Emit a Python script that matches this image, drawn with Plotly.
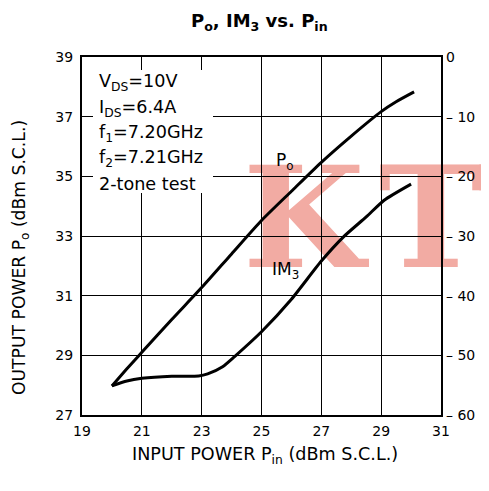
import plotly.graph_objects as go

# ---- data ----
po_pin = [20.0, 20.5, 21.0, 22.0, 23.0, 24.0, 25.0, 26.0, 27.0, 28.0, 29.0, 29.5, 30.1]
po_out = [27.97, 28.55, 29.1, 30.2, 31.27, 32.4, 33.52, 34.5, 35.47, 36.35, 37.17, 37.5, 37.83]

im3_pin = [20.0, 20.5, 21.0, 22.0, 22.9, 23.2, 23.7, 24.1, 25.0, 26.0, 27.0, 27.75, 28.5, 29.1, 30.0]
im3_dbc = [-55.1, -54.3, -53.85, -53.5, -53.45, -53.1, -51.9, -50.2, -46.05, -40.6, -34.2, -30.1, -26.8, -24.0, -21.3]

x_ticks = [19, 21, 23, 25, 27, 29, 31]
y_ticks = [27, 29, 31, 33, 35, 37, 39]
y2_ticks = [0, -10, -20, -30, -40, -50, -60]
y2_labels = ["0", "\u2013 10", "\u2013 20", "\u2013 30", "\u2013 40", "\u2013 50", "\u2013 60"]

conditions = ["V<sub>DS</sub>=10V", "I<sub>DS</sub>=6.4A", "f<sub>1</sub>=7.20GHz",
              "f<sub>2</sub>=7.21GHz", "2-tone test"]

watermark = "K\u200aTT"

FONT = "DejaVu Sans"
OFF = 8  # page body margin in the browser
WIN_W, WIN_H = 489, 491
W, H = WIN_W - OFF, WIN_H - OFF
# plot area in window pixels: x 82..441, y 57..415
ML, MT = 82 - OFF, 57 - OFF
MR, MB = W - (441 - OFF), H - (415 - OFF)
PW, PH = W - ML - MR, H - MT - MB


def px_x(px):
    return (px - OFF - ML) / PW


def px_y(py):
    return (H - MB - (py - OFF)) / PH


fig = go.Figure()
fig.add_trace(go.Scatter(x=po_pin, y=po_out, mode="lines",
                         line=dict(color="black", width=3, shape="spline", smoothing=0.6),
                         showlegend=False, hoverinfo="skip"))
fig.add_trace(go.Scatter(x=im3_pin, y=im3_dbc, mode="lines", yaxis="y2",
                         line=dict(color="black", width=3, shape="spline", smoothing=0.6),
                         showlegend=False, hoverinfo="skip"))

annotations = [
    dict(text="<b>P<sub>o</sub>, IM<sub>3</sub> vs. P<sub>in</sub></b>", xref="paper", yref="paper",
         x=px_x(259), y=px_y(22), xanchor="center", yanchor="middle", showarrow=False,
         font=dict(family=FONT, size=18, color="black")),
    dict(text="INPUT POWER P<sub>in</sub> (dBm S.C.L.)", xref="paper", yref="paper",
         x=px_x(265), y=px_y(455), xanchor="center", yanchor="middle", showarrow=False,
         font=dict(family=FONT, size=17.6, color="black")),
    dict(text="OUTPUT POWER P<sub>o</sub> (dBm S.C.L.)", xref="paper", yref="paper",
         x=px_x(20), y=px_y(258), xanchor="center", yanchor="middle", showarrow=False,
         textangle=-90, font=dict(family=FONT, size=17.2, color="black")),
    dict(text="P<sub>o</sub>", x=25.77, y=35.49, xref="x", yref="y", showarrow=False,
         xanchor="center", yanchor="middle", font=dict(family=FONT, size=17, color="black")),
    dict(text="IM<sub>3</sub>", x=25.8, y=31.86, xref="x", yref="y", showarrow=False,
         xanchor="center", yanchor="middle", font=dict(family=FONT, size=17, color="black")),
]
for t, yc in zip(conditions, [82.7, 108, 133, 158, 184]):
    annotations.append(dict(text=t, xref="paper", yref="paper", x=px_x(97), y=px_y(yc),
                            xanchor="left", yanchor="middle", showarrow=False,
                            font=dict(family=FONT, size=17.6, color="black")))

shapes = [
    # watermark
    dict(type="rect", xref="paper", yref="paper", layer="below",
         x0=px_x(240), x1=px_x(700), y0=px_y(261), y1=px_y(156),
         line=dict(width=0), fillcolor="rgba(0,0,0,0)",
         label=dict(text=watermark, textposition="middle left", padding=0,
                    font=dict(family="DejaVu Serif", size=140, color="#f2aba3", weight="bold"))),
    # white background behind the conditions text
    dict(type="rect", xref="paper", yref="paper", layer="above",
         x0=px_x(93), x1=px_x(213), y0=px_y(193), y1=px_y(70),
         line=dict(width=0), fillcolor="white"),
]

fig.update_layout(
    width=W, height=H,
    margin=dict(l=ML, r=MR, t=MT, b=MB, pad=0, autoexpand=False),
    paper_bgcolor="white", plot_bgcolor="rgba(0,0,0,0)",
    showlegend=False,
    annotations=annotations,
    shapes=shapes,
    xaxis=dict(range=[19, 31], tickvals=x_ticks, showgrid=True, gridcolor="black", gridwidth=1.3,
               showline=True, linecolor="black", linewidth=2, mirror=True, ticks="",
               zeroline=False, ticklabelstandoff=2, automargin=False,
               tickfont=dict(family=FONT, size=14, color="black")),
    yaxis=dict(range=[27, 39], tickvals=y_ticks, showgrid=True, gridcolor="black", gridwidth=1.3,
               showline=True, linecolor="black", linewidth=2, mirror=True, ticks="",
               zeroline=False, ticklabelstandoff=4, automargin=False,
               tickfont=dict(family=FONT, size=14, color="black")),
    yaxis2=dict(range=[-60, 0], tickvals=y2_ticks, ticktext=y2_labels, overlaying="y", side="right",
                showgrid=False, zeroline=False, showline=False, ticks="", ticklabelstandoff=4,
                automargin=False,
                tickfont=dict(family=FONT, size=14, color="black")),
)

fig.write_html("out.html")
